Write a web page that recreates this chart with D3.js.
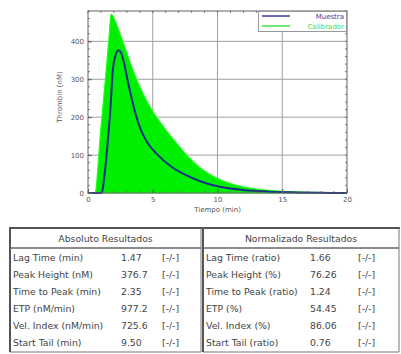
<!DOCTYPE html>
<html>
<head>
<meta charset="utf-8">
<script src="https://cdn.jsdelivr.net/npm/d3@7"></script>
<style>
  html, body { margin: 0; padding: 0; background: #fff; }
  svg { display: block; }
  text { font-family: "DejaVu Sans", Verdana, sans-serif; }
</style>
</head>
<body>
<svg id="chart" width="401" height="354"></svg>
<script>
// Calibrator thrombin generation curve (time in min, thrombin in nM)
const calTime     = [0, 0.5, 0.6, 0.75, 0.93, 1.16, 1.39, 1.62, 1.78, 1.95, 2.2, 2.6, 3.0, 3.5, 4.0, 4.5, 5.0, 5.5, 6.2, 7.0, 7.7, 8.4, 9.0, 10, 11, 12, 13, 14, 15, 16, 17, 18, 20];
const calThrombin = [0, 0, 5, 60, 145, 232, 318, 408, 472, 465, 445, 408, 370, 322, 280, 245, 215, 190, 158, 125, 97, 74, 58, 38, 25, 16, 10.5, 7, 4.5, 3, 2, 1, 0];

// Sample thrombin generation curve
const muestraTime     = [0, 1.0, 1.1, 1.3, 1.55, 1.75, 1.9, 2.1, 2.35, 2.55, 2.8, 3.1, 3.4, 3.7, 4.1, 4.6, 5.4, 6.5, 7.9, 9.0, 10, 12, 14, 16, 18, 20];
const muestraThrombin = [0, 0, 5, 55, 145, 232, 318, 360, 376.7, 370, 340, 290, 245, 205, 165, 132, 100, 68, 42, 27, 18, 8, 3.5, 1.5, 0.5, 0];

// Axis ticks
const xTicks = [0, 5, 10, 15, 20];
const yTicks = [0, 100, 200, 300, 400];

// Legend entries
const legendNames = ["Muestra", "Calibrador"];

// Result tables
const absTitle  = "Absoluto Resultados";
const absLabels = ["Lag Time (min)", "Peak Height (nM)", "Time to Peak (min)", "ETP (nM/min)", "Vel. Index (nM/min)", "Start Tail (min)"];
const absValues = ["1.47", "376.7", "2.35", "977.2", "725.6", "9.50"];
const normTitle  = "Normalizado Resultados";
const normLabels = ["Lag Time (ratio)", "Peak Height (%)", "Time to Peak (ratio)", "ETP (%)", "Vel. Index (%)", "Start Tail (ratio)"];
const normValues = ["1.66", "76.26", "1.24", "54.45", "86.06", "0.76"];
const flags = ["[-/-]", "[-/-]", "[-/-]", "[-/-]", "[-/-]", "[-/-]"];

const svg = d3.select("#chart");

// ---------- Chart ----------
const plot = { left: 88, right: 347, top: 11, bottom: 193 };
const x = d3.scaleLinear().domain([0, 20]).range([plot.left, plot.right]);
const y = d3.scaleLinear().domain([0, 480]).range([plot.bottom, plot.top]);

const gridColor = "#a0a0a0";
const axisColor = "#606060";

// grid
svg.append("g").selectAll("line").data(xTicks.slice(1, -1)).join("line")
  .attr("x1", d => x(d)).attr("x2", d => x(d))
  .attr("y1", plot.top).attr("y2", plot.bottom)
  .attr("stroke", gridColor).attr("stroke-width", 1);
svg.append("g").selectAll("line").data(yTicks.slice(1)).join("line")
  .attr("x1", plot.left).attr("x2", plot.right)
  .attr("y1", d => y(d)).attr("y2", d => y(d))
  .attr("stroke", gridColor).attr("stroke-width", 1);

// calibrator filled area
const calData = calTime.map((t, i) => [t, calThrombin[i]]);
const area = d3.area()
  .x(d => x(d[0])).y0(y(0)).y1(d => y(d[1]))
  .curve(d3.curveMonotoneX);
svg.append("path").datum(calData)
  .attr("d", area)
  .attr("fill", "#00ee00")
  .attr("stroke", "#22ff22").attr("stroke-width", 1.2);

// sample line
const muData = muestraTime.map((t, i) => [t, muestraThrombin[i]]);
const line = d3.line().x(d => x(d[0])).y(d => y(d[1])).curve(d3.curveMonotoneX);
svg.append("path").datum(muData)
  .attr("d", line)
  .attr("fill", "none")
  .attr("stroke", "#1a2f8a").attr("stroke-width", 2);

// axes with inward ticks on all sides
const tickSize = 4, minorSize = 2;
const axisBottom = d3.axisBottom(x).tickValues(xTicks).tickSize(-tickSize).tickPadding(4);
const axisLeft = d3.axisLeft(y).tickValues(yTicks).tickSize(-tickSize).tickPadding(4);
const gx = svg.append("g").attr("transform", `translate(0,${plot.bottom})`).call(axisBottom);
const gy = svg.append("g").attr("transform", `translate(${plot.left},0)`).call(axisLeft);
[gx, gy].forEach(g => {
  g.select(".domain").remove();
  g.selectAll(".tick line").attr("stroke", axisColor);
  g.selectAll(".tick text").attr("fill", "#555").style("font-size", "7px")
    .style("font-family", "DejaVu Sans, sans-serif");
});

// minor ticks
const xMinor = d3.range(0, 20.01, 1);
const yMinor = d3.range(0, 480.01, 20);
const minor = svg.append("g").attr("stroke", axisColor).attr("stroke-width", 0.8);
minor.selectAll(".xb").data(xMinor).join("line")
  .attr("x1", d => x(d)).attr("x2", d => x(d))
  .attr("y1", plot.bottom).attr("y2", plot.bottom - minorSize);
minor.selectAll(".xt").data(xMinor).join("line")
  .attr("x1", d => x(d)).attr("x2", d => x(d))
  .attr("y1", plot.top).attr("y2", plot.top + minorSize);
minor.selectAll(".yl").data(yMinor).join("line")
  .attr("x1", plot.left).attr("x2", plot.left + minorSize)
  .attr("y1", d => y(d)).attr("y2", d => y(d));
minor.selectAll(".yr").data(yMinor).join("line")
  .attr("x1", plot.right).attr("x2", plot.right - minorSize)
  .attr("y1", d => y(d)).attr("y2", d => y(d));

// frame
svg.append("rect")
  .attr("x", plot.left).attr("y", plot.top)
  .attr("width", plot.right - plot.left).attr("height", plot.bottom - plot.top)
  .attr("fill", "none").attr("stroke", axisColor).attr("stroke-width", 1);

// axis titles
svg.append("text")
  .attr("x", (plot.left + plot.right) / 2).attr("y", 212)
  .attr("text-anchor", "middle").attr("fill", "#555")
  .style("font-size", "7px").text("Tiempo (min)");
svg.append("text")
  .attr("transform", `translate(62,${(plot.top + plot.bottom) / 2 - 5}) rotate(-90)`)
  .attr("text-anchor", "middle").attr("fill", "#555")
  .style("font-size", "7px").text("Thrombin (nM)");

// legend
const legendColors = ["#3a3aaa", "#44dd44"];
const leg = svg.append("g");
leg.append("rect").attr("x", 258.5).attr("y", 11.5).attr("width", 88).attr("height", 20)
  .attr("fill", "#fff").attr("stroke", "#999");
legendNames.forEach((name, i) => {
  const ly = 16 + i * 10;
  leg.append("line").attr("x1", 262).attr("x2", 290).attr("y1", ly).attr("y2", ly)
    .attr("stroke", legendColors[i]).attr("stroke-width", 1.5);
  leg.append("text").attr("x", 344).attr("y", ly + 2.5).attr("text-anchor", "end")
    .attr("fill", legendColors[i]).style("font-size", "7px").text(name);
});

// ---------- Tables ----------
const tableTop = 228, headerBottom = 248, rowH = 17, tableBottom = 352;
const fs = "9.3px";
const tables = [
  { x0: 10, x1: 201, title: absTitle, labels: absLabels, values: absValues, vx: 121, fx: 162 },
  { x0: 203, x1: 399, title: normTitle, labels: normLabels, values: normValues, vx: 310, fx: 358 }
];
const tg = svg.append("g");
tables.forEach(t => {
  tg.append("line").attr("x1", t.x0 - 1).attr("x2", t.x1 + 1).attr("y1", tableTop).attr("y2", tableTop)
    .attr("stroke", "#555").attr("stroke-width", 2);
  tg.append("line").attr("x1", t.x0).attr("x2", t.x1).attr("y1", headerBottom).attr("y2", headerBottom)
    .attr("stroke", "#666").attr("stroke-width", 1.5);
  tg.append("line").attr("x1", t.x0).attr("x2", t.x1).attr("y1", tableBottom).attr("y2", tableBottom)
    .attr("stroke", "#777").attr("stroke-width", 1);
  tg.append("line").attr("x1", t.x0).attr("x2", t.x0).attr("y1", tableTop).attr("y2", tableBottom)
    .attr("stroke", "#555").attr("stroke-width", 2);
  tg.append("line").attr("x1", t.x1).attr("x2", t.x1).attr("y1", tableTop).attr("y2", tableBottom)
    .attr("stroke", "#777").attr("stroke-width", 1);
  tg.append("text").attr("x", (t.x0 + t.x1) / 2).attr("y", 242).attr("text-anchor", "middle")
    .attr("fill", "#444").style("font-size", fs).text(t.title);
  t.labels.forEach((lab, i) => {
    const ty = headerBottom + rowH * i + 13;
    tg.append("text").attr("x", t.x0 + 3).attr("y", ty).attr("fill", "#444")
      .style("font-size", fs).text(lab);
    tg.append("text").attr("x", t.vx).attr("y", ty).attr("fill", "#444")
      .style("font-size", fs).text(t.values[i]);
    tg.append("text").attr("x", t.fx).attr("y", ty).attr("fill", "#444")
      .style("font-size", fs).text(flags[i]);
  });
});
</script>
</body>
</html>
